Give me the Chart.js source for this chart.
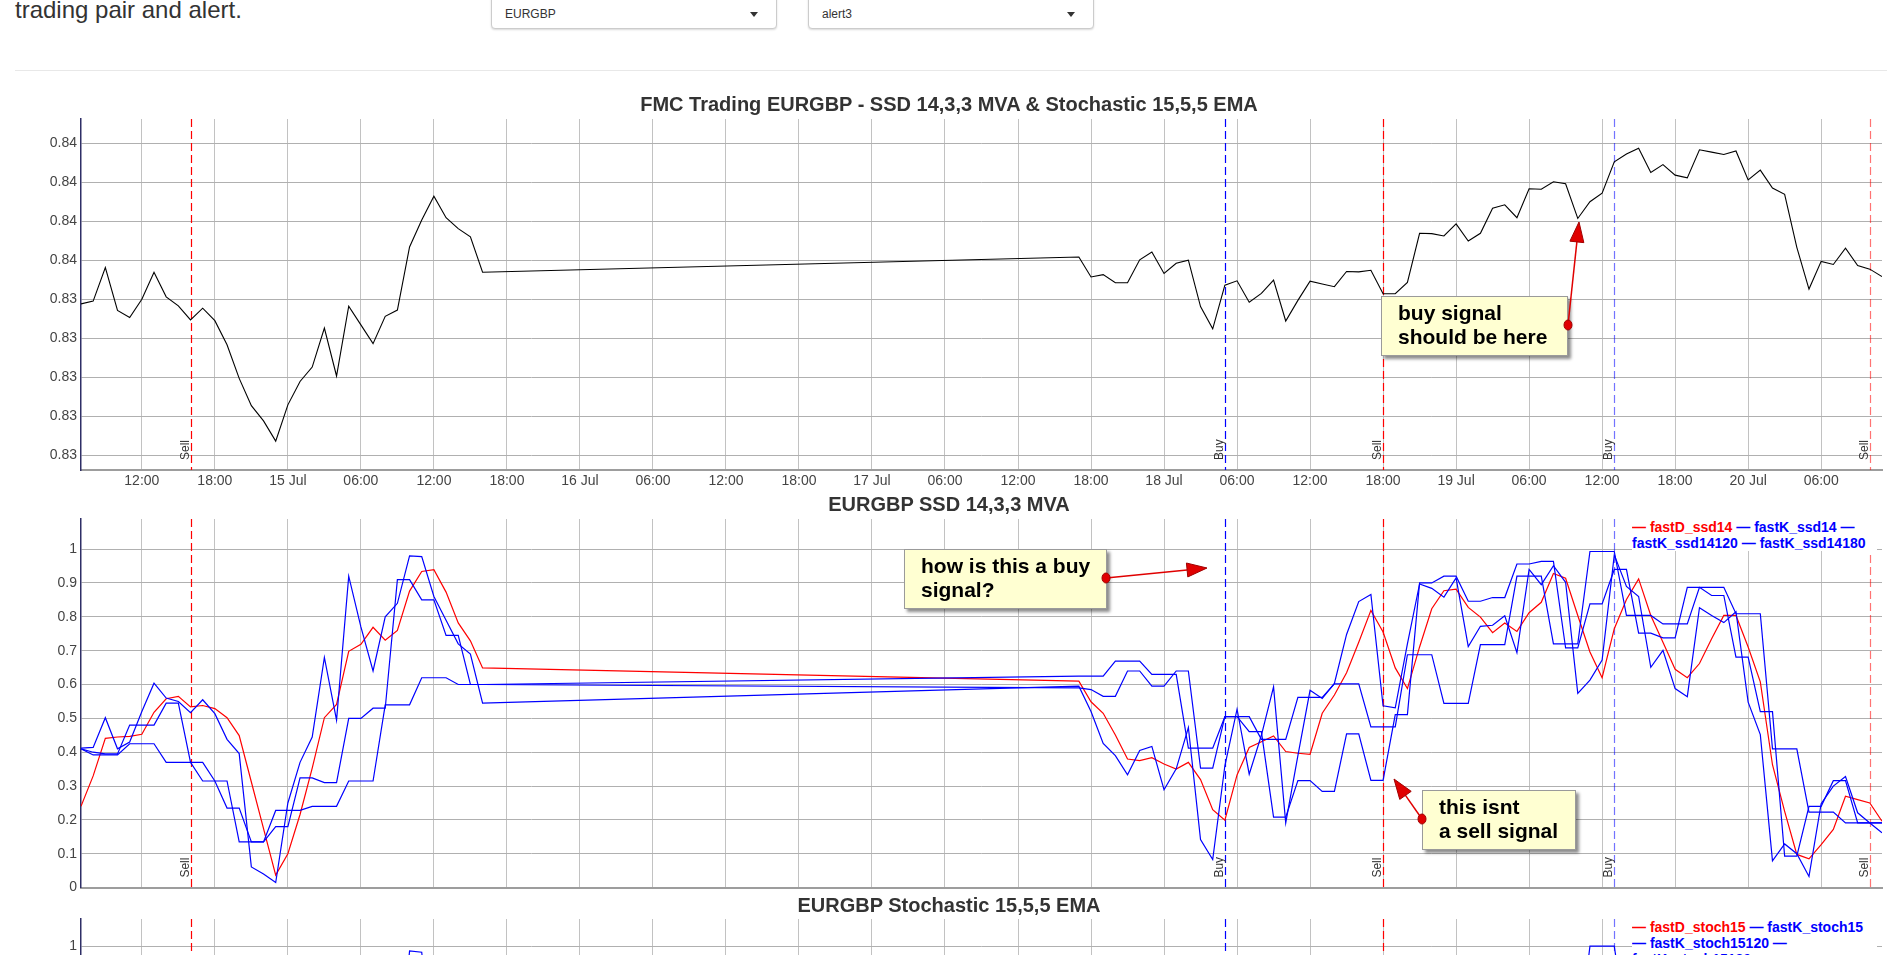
<!DOCTYPE html>
<html>
<head>
<meta charset="utf-8">
<script src="https://cdn.jsdelivr.net/npm/chart.js@4.4.1/dist/chart.umd.min.js"></script>
<style>
  html, body { margin: 0; padding: 0; background: #fff; overflow: hidden; width: 1903px; height: 955px;
               font-family: "Liberation Sans", Arial, sans-serif; }
  .abs { position: absolute; }
  #heading { left: 15px; top: -4px; font-size: 24px; line-height: 28px; color: #333; white-space: nowrap; }
  .select { top: -10px; height: 39px; box-sizing: border-box; border: 1px solid #ccc; border-radius: 4px;
            box-shadow: 0 1px 2px rgba(0,0,0,0.15); background: #fff; }
  .select span { position: absolute; left: 13px; top: 16px; font-size: 12px; line-height: 14px; color: #333; }
  .select i { position: absolute; right: 18px; top: 21px; width: 0; height: 0;
              border-left: 4px solid transparent; border-right: 4px solid transparent; border-top: 5px solid #333; }
  #rule { left: 15px; top: 70px; width: 1872px; height: 1px; background: #e8e8e8; }
  .title { left: 0; width: 1898px; text-align: center; font-size: 20px; font-weight: bold; color: #333;
           line-height: 24px; white-space: nowrap; z-index: 2; }
  canvas { position: absolute; z-index: 1; }
  .legend { left: 1632px; width: 245px; background: #fff; font-size: 14px; font-weight: bold; line-height: 16px; z-index: 2; }
  .note { box-sizing: border-box; border: 1px solid #9a9a9a; background: #ffffd2; box-shadow: 3px 3px 3px rgba(0,0,0,0.45);
          padding: 4px 0 0 16px; font-size: 21px; font-weight: bold; line-height: 23.5px; color: #000; white-space: nowrap; z-index: 3; }
  #arrows { position: absolute; left: 0; top: 0; z-index: 4; }
</style>
</head>
<body>
<div id="heading" class="abs">trading pair and alert.</div>
<div class="select abs" style="left:491px;width:286px"><span>EURGBP</span><i></i></div>
<div class="select abs" style="left:808px;width:286px"><span>alert3</span><i></i></div>
<div id="rule" class="abs"></div>

<div class="title abs" style="top:92px">FMC Trading EURGBP - SSD 14,3,3 MVA &amp; Stochastic 15,5,5 EMA</div>
<div class="title abs" style="top:492px">EURGBP SSD 14,3,3 MVA</div>
<div class="title abs" style="top:893px">EURGBP Stochastic 15,5,5 EMA</div>

<canvas id="priceChart" width="1903" height="399" style="left:0;top:99px"></canvas>
<canvas id="ssdChart" width="1903" height="401" style="left:0;top:499px"></canvas>
<canvas id="stochChart" width="1903" height="398" style="left:0;top:899px"></canvas>

<div id="ssdLegend" class="legend abs" style="top:519px"></div>
<div id="stochLegend" class="legend abs" style="top:919px"></div>
<div id="notes"></div>
<svg id="arrows" width="1903" height="955"></svg>

<script>
//#region Data
// hours counted from 14 Jul 00:00
const hours = [
    7, 8, 9, 10, 11, 12, 13, 14, 15, 16, 17, 18, 19, 20, 21, 22, 23, 24, 25, 26,
    27, 28, 29, 30, 31, 32, 33, 34, 35, 36, 37, 38, 39, 40,
    89, 90, 91, 92, 93, 94, 95, 96, 97, 98, 99, 100, 101, 102, 103, 104, 105, 106, 107, 108,
    109, 110, 111, 112, 113, 114, 115, 116, 117, 118, 119, 120, 121, 122, 123, 124, 125, 126, 127, 128,
    129, 130, 131, 132, 133, 134, 135, 136, 137, 138, 139, 140, 141, 142, 143, 144, 145, 146, 147, 148,
    149, 150, 151, 152, 153, 154, 155
];

const price = [
    0.83488, 0.83495, 0.83581, 0.83471, 0.83453, 0.83500, 0.83569, 0.83506, 0.83483, 0.83447,
    0.83477, 0.83445, 0.83383, 0.83297, 0.83227, 0.83188, 0.83136, 0.83229, 0.83289, 0.83326,
    0.83426, 0.83303, 0.83482, 0.83434, 0.83386, 0.83456, 0.83472, 0.83634, 0.83703, 0.83764,
    0.83709, 0.83681, 0.83660, 0.83569,
    0.83608, 0.83557, 0.83563, 0.83542, 0.83542, 0.83601, 0.83621, 0.83566, 0.83592, 0.83600,
    0.83481, 0.83424, 0.83536, 0.83547, 0.83492, 0.83515, 0.83549, 0.83444, 0.83497, 0.83546,
    0.83539, 0.83532, 0.83571, 0.83570, 0.83574, 0.83514, 0.83514, 0.83543, 0.83669, 0.83668,
    0.83662, 0.83693, 0.83649, 0.83669, 0.83733, 0.83742, 0.83709, 0.83783, 0.83782, 0.83801,
    0.83796, 0.83707, 0.83750, 0.83772, 0.83852, 0.83872, 0.83887, 0.83825, 0.83845, 0.83818,
    0.83811, 0.83883, 0.83877, 0.83871, 0.83880, 0.83806, 0.83831, 0.83785, 0.83769, 0.83633,
    0.83526, 0.83597, 0.83589, 0.83631, 0.83586, 0.83577, 0.83558
];

const fastD_ssd14 = [
    .240, .330, .441, .445, .447, .453, .518, .558, .565, .534,
    .538, .529, .502, .449, .312, .174, .037, .100, .216, .353,
    .502, .541, .698, .719, .769, .731, .760, .876, .934, .939,
    .873, .782, .729, .649,
    .610, .549, .515, .451, .380, .375, .384, .365, .350, .370,
    .319, .230, .199, .333, .414, .431, .448, .402, .397, .394,
    .515, .569, .635, .725, .819, .755, .649, .588, .711, .824,
    .877, .882, .828, .799, .753, .782, .757, .812, .843, .928,
    .914, .804, .696, .620, .765, .851, .912, .804, .725, .645,
    .620, .662, .735, .804, .804, .711, .608, .363, .225, .098,
    .085, .127, .172, .270, .260, .250, .196
];

const fastK_ssd14 = [
    .412, .414, .502, .410, .430, .520, .604, .560, .550, .517,
    .555, .514, .438, .396, .061, .040, .015, .250, .370, .445,
    .680, .495, .920, .770, .640, .800, .840, .980, .978, .860,
    .790, .720, .690, .545,
    .595, .520, .426, .390, .333, .405, .417, .289, .351, .473,
    .142, .083, .360, .527, .335, .450, .593, .191, .390, .583,
    .559, .603, .748, .845, .866, .537, .531, .720, .897, .884,
    .858, .915, .712, .772, .775, .803, .694, .940, .895, .951,
    .902, .574, .613, .672, .983, .890, .860, .651, .701, .588,
    .564, .827, .804, .783, .815, .548, .452, .079, .129, .100,
    .033, .248, .300, .328, .221, .191, .162
];

const fastK_ssd14120 = [
    .410, .400, .395, .395, .480, .480, .480, .545, .545, .370,
    .370, .315, .235, .235, .135, .135, .180, .180, .324, .324,
    .310, .310, .500, .500, .530, .530, .910, .910, .850, .850,
    .745, .745, .600, .600,
    .590, .585, .565, .565, .640, .640, .595, .595, .640, .640,
    .353, .353, .505, .505, .461, .461, .208, .208, .316, .316,
    .284, .284, .454, .454, .317, .317, .511, .511, .900, .900,
    .920, .920, .846, .846, .857, .857, .956, .956, .964, .964,
    .708, .708, .838, .838, .940, .940, .752, .752, .738, .738,
    .887, .887, .863, .863, .681, .681, .520, .520, .093, .093,
    .240, .240, .316, .316, .191, .191, .191
];

const fastK_ssd14180 = [
    .410, .392, .392, .392, .425, .425, .425, .370, .370, .370,
    .315, .315, .315, .135, .135, .135, .228, .228, .228, .240,
    .240, .240, .315, .315, .315, .540, .540, .540, .620, .620,
    .620, .600, .600, .600,
    .625, .625, .625, .669, .669, .669, .630, .630, .630, .412,
    .412, .412, .505, .505, .505, .438, .438, .438, .562, .562,
    .562, .602, .602, .602, .475, .475, .475, .688, .688, .688,
    .544, .544, .544, .718, .718, .718, .920, .920, .920, .720,
    .720, .720, .993, .993, .993, .804, .804, .804, .779, .779,
    .779, .887, .887, .887, .809, .809, .809, .410, .410, .410,
    .223, .223, .223, .191, .191, .191, .191
];

// only the top edge of the stochastic panel is on screen
const stochHours120 = [33, 34, 35, 36];
const fastK_stoch15120 = [0.60, 0.986, 0.982, 0.62];
const stochHours180 = [130, 131, 132, 133, 134];
const fastK_stoch15180 = [0.70, 1.0, 1.0, 1.0, 0.75];

const signalHours = [16, 101, 114, 133, 154];
const signalTypes = ["Sell", "Buy", "Sell", "Buy", "Sell"];

const xTickLabels = [
    "12:00", "18:00", "15 Jul", "06:00", "12:00", "18:00", "16 Jul", "06:00",
    "12:00", "18:00", "17 Jul", "06:00", "12:00", "18:00", "18 Jul", "06:00",
    "12:00", "18:00", "19 Jul", "06:00", "12:00", "18:00", "20 Jul", "06:00"
];
const priceTicks = [0.831, 0.832, 0.833, 0.834, 0.835, 0.836, 0.837, 0.838, 0.839];
const priceTickLabels = ["0.83", "0.83", "0.83", "0.83", "0.83", "0.84", "0.84", "0.84", "0.84"];
const oscTicks = [0, 0.1, 0.2, 0.3, 0.4, 0.5, 0.6, 0.7, 0.8, 0.9, 1];
const oscTickLabels = ["0", "0.1", "0.2", "0.3", "0.4", "0.5", "0.6", "0.7", "0.8", "0.9", "1"];

const ssdNames = ["fastD_ssd14", "fastK_ssd14", "fastK_ssd14120", "fastK_ssd14180"];
const stochNames = ["fastD_stoch15", "fastK_stoch15", "fastK_stoch15120", "fastK_stoch15180"];
//#endregion

const RED = "#ff0000";
const BLUE = "#0000ff";
const seriesColors = [RED, BLUE, BLUE, BLUE];
const xTickHours = xTickLabels.map((_, i) => 12 + 6 * i);
// the last two signal lines are drawn fainter in the original
const signalAlpha = [1, 1, 1, 0.55, 0.55];

Chart.defaults.font.family = "'Liberation Sans', Arial, sans-serif";

//#region Signal Lines Plugin
const signalLines = {
    id: "signalLines",
    beforeDatasetsDraw(chart) {
        const { ctx, chartArea, scales } = chart;
        ctx.save();
        signalHours.forEach((h, i) => {
            const px = Math.round(scales.x.getPixelForValue(h)) + 0.5;
            const color = signalTypes[i] === "Sell" ? RED : BLUE;
            ctx.globalAlpha = signalAlpha[i];
            ctx.strokeStyle = color;
            ctx.lineWidth = 1.2;
            ctx.setLineDash([8, 4]);
            ctx.beginPath();
            ctx.moveTo(px, chartArea.top);
            ctx.lineTo(px, chartArea.bottom);
            ctx.stroke();

            ctx.globalAlpha = 1;
            ctx.setLineDash([]);
            ctx.save();
            ctx.translate(px - 3, chartArea.bottom - 10);
            ctx.rotate(-Math.PI / 2);
            ctx.fillStyle = "#333";
            ctx.font = "12px 'Liberation Sans', Arial, sans-serif";
            ctx.textAlign = "left";
            ctx.textBaseline = "alphabetic";
            ctx.fillText(signalTypes[i], 0, 0);
            ctx.restore();
        });
        ctx.restore();
    }
};
//#endregion

//#region Chart Builder
function buildChart(id, datasets, o) {
    return new Chart(document.getElementById(id), {
        type: "line",
        data: { datasets },
        options: {
            responsive: false,
            animation: false,
            devicePixelRatio: 1,
            events: [],
            layout: { padding: { top: 20, right: 21, bottom: o.padBottom, left: 0 } },
            plugins: { legend: { display: false }, title: { display: false }, tooltip: { enabled: false } },
            elements: { point: { radius: 0 }, line: { tension: 0 } },
            scales: {
                x: {
                    type: "linear",
                    min: 7,
                    max: 155,
                    afterBuildTicks: s => { s.ticks = xTickHours.map(v => ({ value: v })); },
                    afterFit: s => { s.height = o.xHeight; },
                    grid: { color: "#c2c2c2", drawTicks: false },
                    border: { color: "#9d9d9d", width: 2 },
                    ticks: {
                        display: o.xLabels,
                        autoSkip: false,
                        maxRotation: 0,
                        padding: 3,
                        color: "#444",
                        font: { size: 14 },
                        callback: (v, i) => xTickLabels[i]
                    }
                },
                y: {
                    type: "linear",
                    min: o.yMin,
                    max: o.yMax,
                    afterBuildTicks: s => { s.ticks = o.yTicks.map(v => ({ value: v })); },
                    afterFit: s => { s.width = 81; },
                    grid: { color: "#b0b0b0", drawTicks: false },
                    border: { color: "#2e2e66", width: 1.5 },
                    ticks: {
                        padding: 4,
                        color: "#444",
                        font: { size: 14 },
                        callback: (v, i) => o.yLabels[i]
                    }
                }
            }
        },
        plugins: [signalLines]
    });
}

function series(xs, ys, color) {
    return {
        data: xs.map((x, i) => ({ x, y: ys[i] })),
        borderColor: color,
        borderWidth: 1.2,
        pointRadius: 0
    };
}
//#endregion

//#region Charts
const priceSet = series(hours, price, "#000");
priceSet.borderWidth = 1.1;
buildChart("priceChart", [priceSet], {
    yMin: 0.83062, yMax: 0.83962, yTicks: priceTicks, yLabels: priceTickLabels,
    xLabels: true, xHeight: 28, padBottom: 0
});

buildChart("ssdChart", [
    series(hours, fastK_ssd14180, BLUE),
    series(hours, fastK_ssd14120, BLUE),
    series(hours, fastK_ssd14, BLUE),
    series(hours, fastD_ssd14, RED)
], {
    yMin: 0, yMax: 1.089, yTicks: oscTicks, yLabels: oscTickLabels,
    xLabels: false, xHeight: 0, padBottom: 10
});

buildChart("stochChart", [
    series(stochHours180, fastK_stoch15180, BLUE),
    series(stochHours120, fastK_stoch15120, BLUE)
], {
    yMin: 0, yMax: 1.08, yTicks: oscTicks, yLabels: oscTickLabels,
    xLabels: false, xHeight: 0, padBottom: 10
});
//#endregion

//#region Legends
function fillLegend(id, names) {
    document.getElementById(id).innerHTML = names
        .map((n, i) => `<span style="color:${seriesColors[i]}">\u2014 ${n}</span>`)
        .join(" ");
}
fillLegend("ssdLegend", ssdNames);
fillLegend("stochLegend", stochNames);
//#endregion

//#region Notes And Arrows
const notes = [
    { lines: ["buy signal", "should be here"], box: [1381, 296, 187, 60], from: [1568, 325], to: [1579, 222] },
    { lines: ["how is this a buy", "signal?"], box: [904, 549, 203, 60], from: [1106, 578], to: [1207, 568] },
    { lines: ["this isnt", "a sell signal"], box: [1422, 790, 154, 60], from: [1422, 819], to: [1394, 779] }
];

let notesHtml = "";
let svg = "";
notes.forEach(n => {
    const [l, t, w, h] = n.box;
    notesHtml += `<div class="note abs" style="left:${l}px;top:${t}px;width:${w}px;height:${h}px">${n.lines.join("<br>")}</div>`;
    const [fx, fy] = n.from;
    const [tx, ty] = n.to;
    const len = Math.hypot(tx - fx, ty - fy);
    const ux = (tx - fx) / len, uy = (ty - fy) / len;
    const bx = tx - ux * 20, by = ty - uy * 20;
    const px = -uy * 7, py = ux * 7;
    svg += `<line x1="${fx}" y1="${fy}" x2="${bx}" y2="${by}" stroke="#e00000" stroke-width="1.5"/>`;
    svg += `<polygon points="${tx},${ty} ${bx + px},${by + py} ${bx - px},${by - py}" fill="#e00000" stroke="#a00000" stroke-width="1"/>`;
    svg += `<ellipse cx="${fx}" cy="${fy}" rx="4" ry="5" fill="#e00000" stroke="#a00000" stroke-width="1"/>`;
});
document.getElementById("notes").innerHTML = notesHtml;
document.getElementById("arrows").innerHTML = svg;
//#endregion
</script>
</body>
</html>
